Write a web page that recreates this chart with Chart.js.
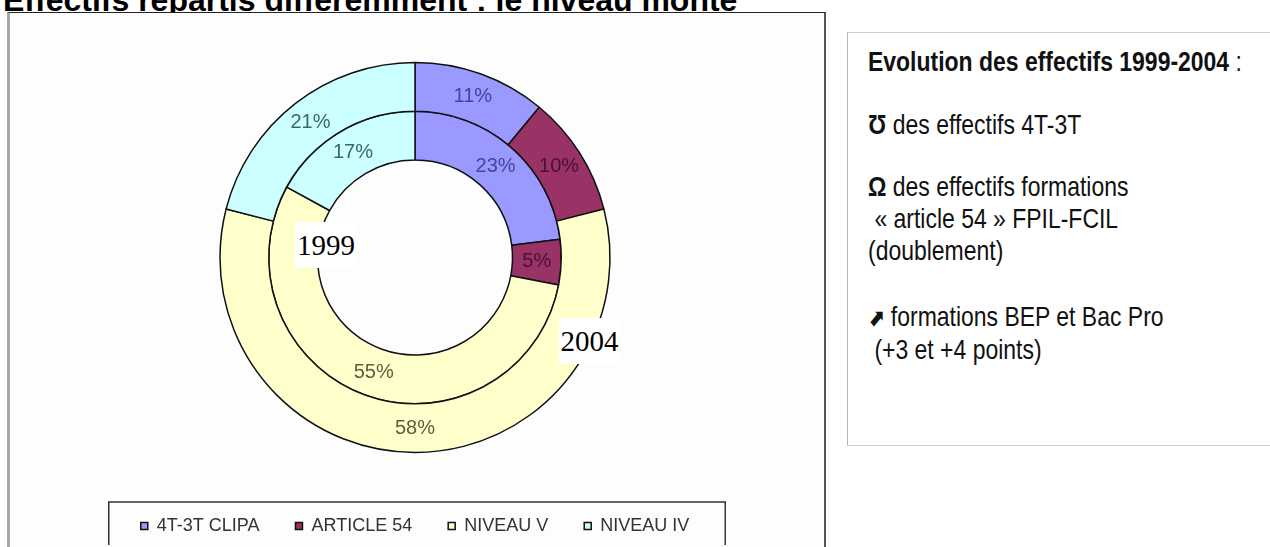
<!DOCTYPE html>
<html lang="fr">
<head>
<meta charset="utf-8">
<script src="https://cdn.jsdelivr.net/npm/chart.js@4.4.1/dist/chart.umd.min.js"></script>
<style>
  html, body { margin: 0; padding: 0; background: #fff; overflow: hidden; }
  body { width: 1270px; height: 547px; position: relative; font-family: "Liberation Sans", Arial, sans-serif; }
  #title { position: absolute; left: 3px; top: -16px; font: bold 32px/32px "Liberation Sans", Arial, sans-serif; color: #000; white-space: nowrap; }
  #frame { position: absolute; left: 7px; top: 12px; width: 814px; height: 560px;
           border-top: 1px solid #222; border-left: 3px solid #a8a8a8; border-right: 2px solid #555; background: #fdfdfd; }
  #chart { position: absolute; left: 10px; top: 13px; }
  .year { position: absolute; background: #fff; font: 29px/46px "Liberation Serif", "Times New Roman", serif; color: #000; text-align: center; }
  #box { position: absolute; left: 847px; top: 32px; width: 440px; height: 414px;
         border: 1px solid #cfcfcf; border-left-color: #b5b5b5; background: #fff; padding: 13px 0 0 20px; box-sizing: border-box;
         font-family: "Liberation Sans", Arial, sans-serif; font-size: 28px; color: #111; }
  #box p { margin: 0; line-height: 32px; white-space: nowrap; transform: scaleX(0.82); transform-origin: 0 0; }
  .ico { font-family: "DejaVu Sans", sans-serif; font-weight: bold; font-size: 24px; }
</style>
</head>
<body>
<div id="title">Effectifs répartis différemment : le niveau monte</div>
<div id="frame"></div>
<canvas id="chart" width="813" height="532"></canvas>
<div class="year" style="left:295px; top:222px; width:62px; height:46px;">1999</div>
<div class="year" style="left:559px; top:318px; width:61px; height:46px;">2004</div>
<div id="box">
  <p><b>Evolution des effectifs 1999-2004</b> :</p>
  <p style="margin-top:31px"><b>Ʊ</b> des effectifs 4T-3T</p>
  <p style="margin-top:30px"><b>Ω</b> des effectifs formations</p>
  <p>&nbsp;« article 54 » FPIL-FCIL</p>
  <p>(doublement)</p>
  <p style="margin-top:34px"><span class="ico">⬈</span> formations BEP et Bac Pro</p>
  <p>&nbsp;(+3 et +4 points)</p>
</div>
<script>
const categories = ["4T-3T CLIPA", "ARTICLE 54", "NIVEAU V", "NIVEAU IV"]
const values2004 = [11, 10, 58, 21]
const values1999 = [23, 5, 55, 17]
const fillColors = ["#9999ff", "#993366", "#ffffcc", "#ccffff"]
const labelColors = ["#45459a", "#4d1030", "#5e5e3c", "#3a6868"]

// percentages written in the middle of every slice
const pctLabels = {
  id: "pctLabels",
  afterDatasetsDraw(chart) {
    const ctx = chart.ctx
    ctx.save()
    ctx.font = '20px "Liberation Sans", Arial, sans-serif'
    ctx.textAlign = "center"
    ctx.textBaseline = "middle"
    chart.data.datasets.forEach((ds, i) => {
      chart.getDatasetMeta(i).data.forEach((arc, j) => {
        const p = arc.tooltipPosition()
        ctx.fillStyle = labelColors[j]
        ctx.fillText(ds.data[j] + "%", p.x, p.y)
      })
    })
    ctx.restore()
  },
}

// frame round the legend, as in the spreadsheet
const legendFrame = {
  id: "legendFrame",
  afterDraw(chart) {
    const boxes = chart.legend.legendHitBoxes
    if (!boxes || !boxes.length) return
    const first = boxes[0]
    const last = boxes[boxes.length - 1]
    const ctx = chart.ctx
    const top = first.top + first.height / 2 - 24
    const left = first.left - 32
    ctx.save()
    ctx.strokeStyle = "#333"
    ctx.lineWidth = 1.5
    ctx.strokeRect(left, top, last.left + last.width + 36 - left, chart.height - top + 20)
    ctx.restore()
  },
}

new Chart(document.getElementById("chart"), {
  type: "doughnut",
  data: {
    labels: categories,
    datasets: [
      {
        label: "2004",
        data: values2004,
        backgroundColor: fillColors,
        borderColor: "#111",
        borderWidth: 1.5,
      },
      {
        label: "1999",
        data: values1999,
        backgroundColor: fillColors,
        borderColor: "#111",
        borderWidth: 1.5,
      },
    ],
  },
  options: {
    responsive: false,
    animation: false,
    radius: 195,
    cutout: "50%",
    layout: { padding: { top: 21, left: 0, right: 3, bottom: 0 } },
    plugins: {
      tooltip: { enabled: false },
      legend: {
        position: "bottom",
        labels: {
          boxWidth: 7,
          boxHeight: 7,
          padding: 36,
          color: "#333",
          font: { family: '"Liberation Sans", Arial, sans-serif', size: 18 },
        },
      },
    },
  },
  plugins: [pctLabels, legendFrame],
})
</script>
</body>
</html>
